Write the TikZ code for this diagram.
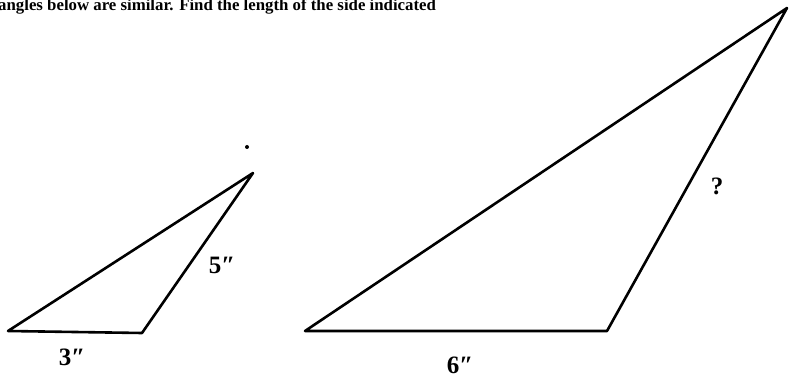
\documentclass[tikz,border=0pt]{standalone}
\usepackage{fontspec}
\setmainfont{Liberation Serif}
\begin{document}
\begin{tikzpicture}[x=1pt,y=-1pt,
  side/.style={line width=2.6pt,line join=round,line cap=round},
  lbl/.style={font=\fontsize{25}{25}\selectfont\bfseries,inner sep=0pt}]
\useasboundingbox (0,0) rectangle (789,379);
\clip (0,0) rectangle (789,379);
\node[anchor=base west,inner sep=0pt,font=\fontsize{16.8}{16.8}\selectfont\bfseries] (title) at (-2,11) {angles below are similar. Find the length of the side indicated};
% small triangle
\coordinate (a1) at (8,331);
\coordinate (b1) at (142,333);
\coordinate (c1) at (253,173);
\draw[side] (a1) -- (b1) -- (c1) -- cycle;
\node[lbl] (s3) at (72,357) {3″};
\node[lbl] (s5) at (222,265) {5″};
\fill (247,147) circle (2) node (dot) {};
% large triangle
\coordinate (a2) at (305,331);
\coordinate (b2) at (607,331);
\coordinate (c2) at (787,8);
\draw[side] (a2) -- (b2) -- (c2) -- cycle;
\node[lbl] (s6) at (460,365) {6″};
\node[lbl] (sq) at (717,186) {?};
\end{tikzpicture}
\end{document}
